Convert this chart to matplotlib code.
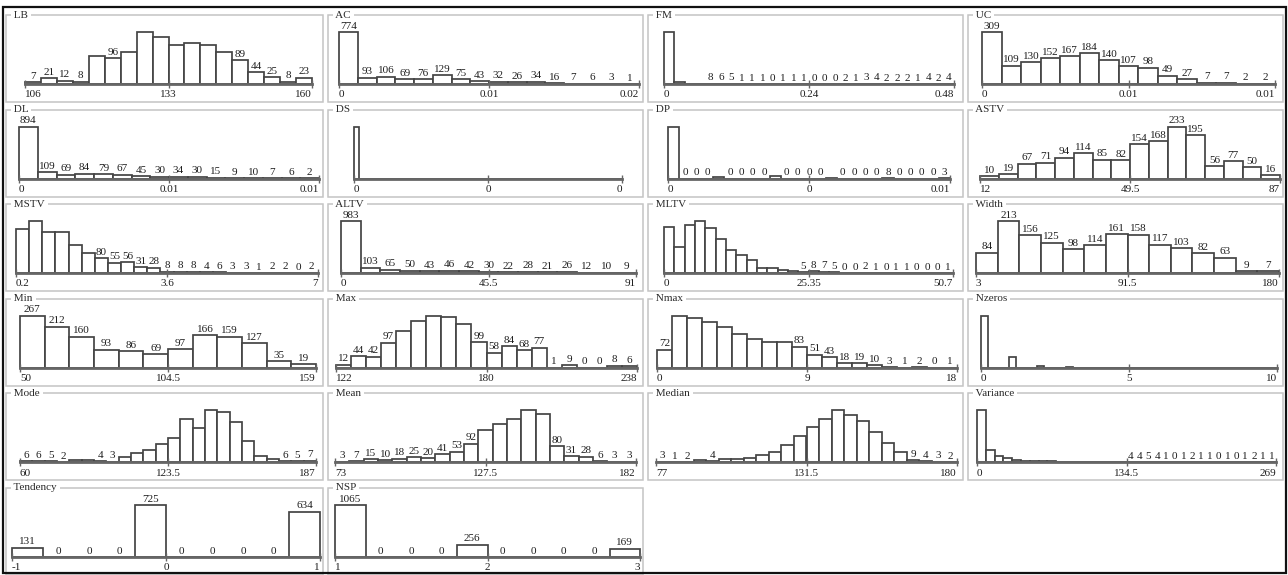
import matplotlib.pyplot as plt
from matplotlib.patches import Rectangle

# ---- data: bin counts per attribute ----
names = ["LB", "AC", "FM", "UC", "DL", "DS", "DP", "ASTV", "MSTV", "ALTV", "MLTV", "Width",
         "Min", "Max", "Nmax", "Nzeros", "Mode", "Mean", "Median", "Variance", "Tendency", "NSP"]

lb_counts = [7, 21, 12, 8, 105, 96, 119, 195, 175, 145, 152, 145, 121, 89, 44, 25, 8, 23]
ac_counts = [774, 93, 106, 69, 76, 129, 75, 43, 32, 26, 34, 16, 7, 6, 3, 1]
fm_counts = [1375, 40, 12, 11, 8, 6, 5, 1, 1, 1, 0, 1, 1, 1, 0, 0, 0, 2, 1, 3, 4, 2, 2, 2, 1, 4, 2, 4]
uc_counts = [309, 109, 130, 152, 167, 184, 140, 107, 98, 49, 27, 7, 7, 2, 2]
dl_counts = [894, 109, 69, 84, 79, 67, 45, 30, 34, 30, 15, 9, 10, 7, 6, 2]
ds_counts = [1490] + [0] * 53
dp_counts = [1366, 0, 0, 0, 34, 0, 0, 0, 0, 60, 0, 0, 0, 0, 19, 0, 0, 0, 0, 8, 0, 0, 0, 0, 3]
astv_counts = [10, 19, 67, 71, 94, 114, 85, 82, 154, 168, 233, 195, 56, 77, 50, 16]
mstv_counts = [229, 272, 218, 218, 150, 106, 80, 55, 56, 31, 28, 8, 8, 8, 4, 6, 3, 3, 1, 2, 2, 0, 2]
altv_counts = [983, 103, 65, 50, 43, 46, 42, 30, 22, 28, 21, 26, 12, 10, 9]
mltv_counts = [211, 119, 218, 235, 203, 156, 107, 81, 58, 24, 24, 13, 10,
               5, 8, 7, 5, 0, 0, 2, 1, 0, 1, 1, 0, 0, 0, 1]
width_counts = [84, 213, 156, 125, 98, 114, 161, 158, 117, 103, 82, 63, 9, 7]
min_counts = [267, 212, 160, 93, 86, 69, 97, 166, 159, 127, 35, 19]
max_counts = [12, 44, 42, 97, 140, 180, 200, 195, 170, 99, 58, 84, 68, 77, 1, 9, 0, 0, 8, 6]
nmax_counts = [72, 205, 195, 180, 160, 135, 112, 100, 100, 83, 51, 43, 18, 19, 10, 3, 1, 2, 0, 1]
nzeros_counts = [1180, 0, 0, 0, 250, 0, 0, 0, 42, 0, 0, 0, 10, 0, 0, 0, 5, 0, 0, 0, 0,
                 2, 0, 0, 0, 1, 0, 0, 0, 0, 0, 0, 0, 0, 0, 0, 0, 0, 0, 0, 0, 0]
mode_counts = [6, 6, 5, 2, 10, 12, 4, 3, 25, 40, 55, 80, 110, 190, 150, 230, 225, 180, 95, 30, 14, 6, 5, 7]
mean_counts = [3, 7, 15, 10, 18, 25, 20, 41, 53, 92, 160, 190, 215, 255, 235, 80, 31, 28, 6, 3, 3]
median_counts = [3, 1, 2, 10, 4, 12, 14, 20, 30, 45, 70, 110, 145, 180, 215, 195, 170, 125, 80, 41, 9, 4, 3, 2]
variance_counts = [865, 200, 110, 70, 45, 30, 22, 18, 15, 13, 12, 11, 10, 10, 10, 10, 10,
                   4, 4, 5, 4, 1, 0, 1, 2, 1, 1, 0, 1, 0, 1, 2, 1, 1]
tendency_counts = [131, 0, 0, 0, 725, 0, 0, 0, 0, 634]
nsp_counts = [1065, 0, 0, 0, 256, 0, 0, 0, 0, 169]

lb_ticks = ["106", "133", "160"]
ac_ticks = ["0", "0.01", "0.02"]
fm_ticks = ["0", "0.24", "0.48"]
uc_ticks = ["0", "0.01", "0.01"]
dl_ticks = ["0", "0.01", "0.01"]
ds_ticks = ["0", "0", "0"]
dp_ticks = ["0", "0", "0.01"]
astv_ticks = ["12", "49.5", "87"]
mstv_ticks = ["0.2", "3.6", "7"]
altv_ticks = ["0", "45.5", "91"]
mltv_ticks = ["0", "25.35", "50.7"]
width_ticks = ["3", "91.5", "180"]
min_ticks = ["50", "104.5", "159"]
max_ticks = ["122", "180", "238"]
nmax_ticks = ["0", "9", "18"]
nzeros_ticks = ["0", "5", "10"]
mode_ticks = ["60", "123.5", "187"]
mean_ticks = ["73", "127.5", "182"]
median_ticks = ["77", "131.5", "180"]
variance_ticks = ["0", "134.5", "269"]
tendency_ticks = ["-1", "0", "1"]
nsp_ticks = ["1", "2", "3"]

all_counts = [lb_counts, ac_counts, fm_counts, uc_counts, dl_counts, ds_counts, dp_counts,
              astv_counts, mstv_counts, altv_counts, mltv_counts, width_counts, min_counts,
              max_counts, nmax_counts, nzeros_counts, mode_counts, mean_counts, median_counts,
              variance_counts, tendency_counts, nsp_counts]
all_ticks = [lb_ticks, ac_ticks, fm_ticks, uc_ticks, dl_ticks, ds_ticks, dp_ticks, astv_ticks,
             mstv_ticks, altv_ticks, mltv_ticks, width_ticks, min_ticks, max_ticks, nmax_ticks,
             nzeros_ticks, mode_ticks, mean_ticks, median_ticks, variance_ticks,
             tendency_ticks, nsp_ticks]

# ---- layout / style ----
W, H = 1288, 575
SERIF = ["Liberation Serif", "DejaVu Serif"]
BAR_EDGE = "#444444"
AXIS_COL = "#666666"
TEXT_COL = "#1e1e1e"
FS = 8

# how many digits fit over one bar (narrow bars get no count label)
LABEL_DIGITS = {"LB": 2, "AC": 3, "FM": 1, "UC": 3, "DL": 3, "DS": 0, "DP": 1, "ASTV": 3,
                "MSTV": 2, "ALTV": 3, "MLTV": 1, "Width": 3, "Min": 3, "Max": 2, "Nmax": 2,
                "Nzeros": 0, "Mode": 1, "Mean": 2, "Median": 1, "Variance": 1,
                "Tendency": 3, "NSP": 4}
# axis inset (left, right) inside each panel, px
INSETS = {"LB": (19, 11), "AC": (11, 4), "FM": (16, 9), "UC": (14, 8), "DL": (13, 4),
          "DS": (26, 21), "DP": (20, 13), "ASTV": (12, 3), "MSTV": (10, 5), "ALTV": (13, 7),
          "MLTV": (16, 10), "Width": (8, 4), "Min": (14, 7), "Max": (8, 6), "Nmax": (9, 6),
          "Nzeros": (13, 6), "Mode": (14, 7), "Mean": (7, 7), "Median": (8, 6),
          "Variance": (9, 7), "Tendency": (6, 3), "NSP": (7, 3)}

COL_L = [6, 328, 648, 968]
COL_R = [323, 643, 963, 1283]
ROW_T0, ROW_STEP = 15, 94.6


def fx(px):
  return px / W


def fy(py):
  return 1 - py / H


fig = plt.figure(figsize=(W / 100, H / 100), dpi=100)
fig.patch.set_facecolor("white")

for k, (name, cnt, tk) in enumerate(zip(names, all_counts, all_ticks)):
  r, c = divmod(k, 4)
  L, R = COL_L[c], COL_R[c]
  T = ROW_T0 + ROW_STEP * r
  B = T + 87

  # panel frame + title sitting on the top border
  fig.add_artist(Rectangle((fx(L), fy(B)), fx(R - L), (B - T) / H, transform=fig.transFigure,
                           fill=False, edgecolor="#c4c4c4", lw=1.1))
  fig.text(fx(L + 5), fy(T), " " + name + " ", ha="left", va="center", fontsize=FS,
           family=SERIF, color="#2a2a2a",
           bbox=dict(facecolor="white", edgecolor="none", pad=0.3))

  inl, inr = INSETS[name]
  x0, x1 = L + inl, R - inr
  base, top = T + 69, T + 17
  ax = fig.add_axes([fx(x0), fy(base), fx(x1 - x0), (base - top) / H])
  n = len(cnt)
  ax.set_xlim(0, n)
  ax.set_ylim(0, max(cnt))
  ax.bar(range(n), cnt, width=1, align="edge", facecolor="white",
         edgecolor=BAR_EDGE, lw=1.25, clip_on=False)

  for i, v in enumerate(cnt):
    if len(str(v)) <= LABEL_DIGITS[name]:
      ax.annotate(str(v), (i + 0.5, v), xytext=(0, 1.0), textcoords="offset points",
                  ha="center", va="bottom", fontsize=FS, family=SERIF, color=TEXT_COL,
                  annotation_clip=False)

  for s in ["top", "left", "right"]:
    ax.spines[s].set_visible(False)
  ax.spines["bottom"].set_color(AXIS_COL)
  ax.spines["bottom"].set_linewidth(2.0)
  ax.set_yticks([])
  ax.set_xticks([0, n / 2, n])
  ax.set_xticklabels(tk, fontsize=FS, family=SERIF, color=TEXT_COL)
  ax.tick_params(axis="x", direction="inout", length=6, width=1.0, color=AXIS_COL, pad=1.5)
  labs = ax.get_xticklabels()
  labs[0].set_ha("left")
  labs[-1].set_ha("right")
  ax.patch.set_visible(False)

# outer dark frame
fig.add_artist(Rectangle((fx(3), fy(573)), fx(1283), (573 - 6.5) / H,
                         transform=fig.transFigure, fill=False, edgecolor="#111111", lw=1.6))

fig.savefig("out.png", dpi=100, facecolor=fig.get_facecolor())
